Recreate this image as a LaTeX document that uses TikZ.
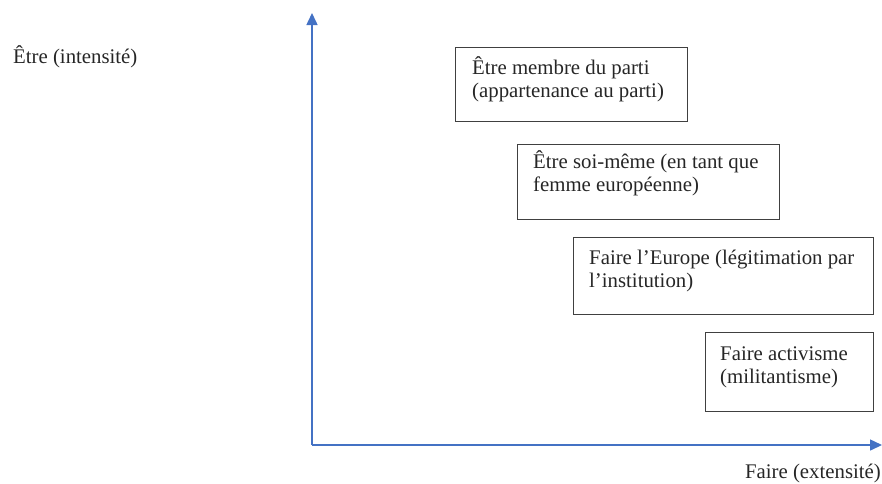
\documentclass[tikz,border=0pt]{standalone}
\usepackage{fontspec}
\setmainfont{Liberation Serif}
\usetikzlibrary{arrows.meta}
\definecolor{axisblue}{RGB}{68,114,196}
\definecolor{boxgray}{RGB}{64,64,64}
\newcommand{\twolines}[2]{\vtop{\hbox{\strut #1}\hbox{\strut #2}}}
\begin{document}
\begin{tikzpicture}[x=1pt,y=-1pt,
  axisline/.style={draw=axisblue, line width=1.5pt, -{Triangle[length=12pt,width=11pt]}},
  boxnode/.style={draw=boxgray, line width=0.9pt, inner sep=0pt, outer sep=0pt, anchor=north west},
  txt/.style={inner sep=0pt, anchor=base west, font=\fontsize{20.8}{23.5}\selectfont, text=black!85}]
\useasboundingbox (0,0) rectangle (882,483);
% axes
\coordinate (o) at (312,445);
\coordinate (ytop) at (312,13);
\coordinate (xend) at (882,445);
\draw[axisline] (o) -- (ytop);
\draw[axisline] (o) -- (xend);
% axis labels
\node[txt] (ly) at (13,63) {Être (intensité)};
\node[txt, anchor=base east] (lx) at (881,478) {Faire (extensité)};
% boxes
\node[boxnode, minimum width=232pt, minimum height=74pt] (b1) at (455,47) {};
\node[boxnode, minimum width=262pt, minimum height=75pt] (b2) at (517,144) {};
\node[boxnode, minimum width=300pt, minimum height=77pt] (b3) at (573,237) {};
\node[boxnode, minimum width=168pt, minimum height=79pt] (b4) at (705,332) {};
% box texts
\node[txt] (t1) at (472,74) {\twolines{Être membre du parti}{(appartenance au parti)}};
\node[txt] (t2) at (533,168) {\twolines{Être soi-même (en tant que}{femme européenne)}};
\node[txt] (t3) at (589,264) {\twolines{Faire l’Europe (légitimation par}{l’institution)}};
\node[txt] (t4) at (720,360) {\twolines{Faire activisme}{(militantisme)}};
\end{tikzpicture}
\end{document}
